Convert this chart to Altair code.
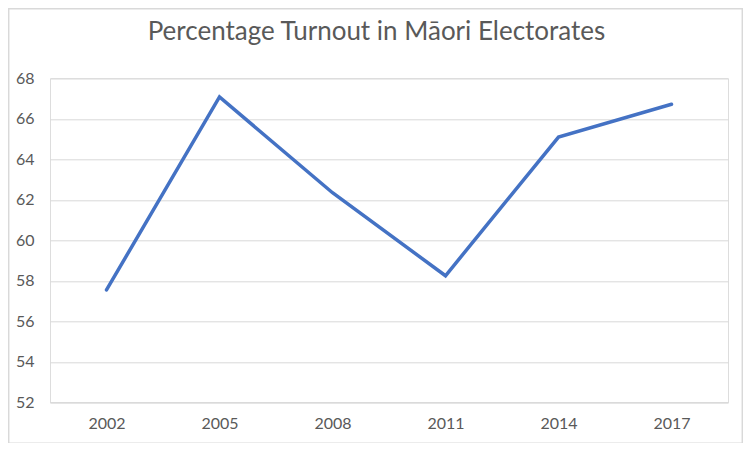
import altair as alt
import pandas as pd

years = ["2002", "2005", "2008", "2011", "2014", "2017"]
turnout = [57.55, 67.08, 62.35, 58.25, 65.1, 66.72]
title_text = ["Percentage Turnout in Māori Electorates"]
y_ticks = [52, 54, 56, 58, 60, 62, 64, 66, 68]

df = pd.DataFrame({"year": years, "turnout": turnout})

W, H = 678, 324
FONT = "Lato"
GRAY = "#595959"

line = alt.Chart(df).mark_line(color="#4472C4", strokeWidth=3.5, strokeJoin="miter", strokeCap="round").encode(
    x=alt.X("year:O", sort=years, title=None,
            scale=alt.Scale(type="point", padding=0.5),
            axis=alt.Axis(labelAngle=0, ticks=False, domain=True, domainColor="#d9d9d9",
                          labelPadding=13, labelFontSize=16, labelColor=GRAY, labelFont=FONT,
                          grid=False)),
    y=alt.Y("turnout:Q", title=None,
            scale=alt.Scale(domain=[52, 68], nice=False, zero=False),
            axis=alt.Axis(values=y_ticks, ticks=False, domain=False, gridColor="#d9d9d9",
                          labelPadding=16, labelFontSize=16, labelColor=GRAY, labelFont=FONT)),
)

title = alt.Chart(pd.DataFrame({"t": title_text})).mark_text(
    font=FONT, fontSize=26, color=GRAY, align="center", baseline="alphabetic"
).encode(text="t:N", x=alt.value(326.5), y=alt.value(-37.8))

border = alt.Chart(pd.DataFrame({"b": [1]})).mark_rect(
    fill=None, stroke="#d9d9d9", strokeWidth=1.5
).encode(x=alt.value(-41.3), x2=alt.value(692.3), y=alt.value(-69.6), y2=alt.value(364.9))

chart = alt.layer(border, line, title).properties(
    width=W, height=H,
    autosize=alt.AutoSizeParams(type="none"),
    padding={"left": 42, "top": 70.3, "right": 15, "bottom": 41},
).configure_view(stroke=None).configure(background="white")

chart.save("out.html", embed_options={"renderer": "svg", "actions": False})
